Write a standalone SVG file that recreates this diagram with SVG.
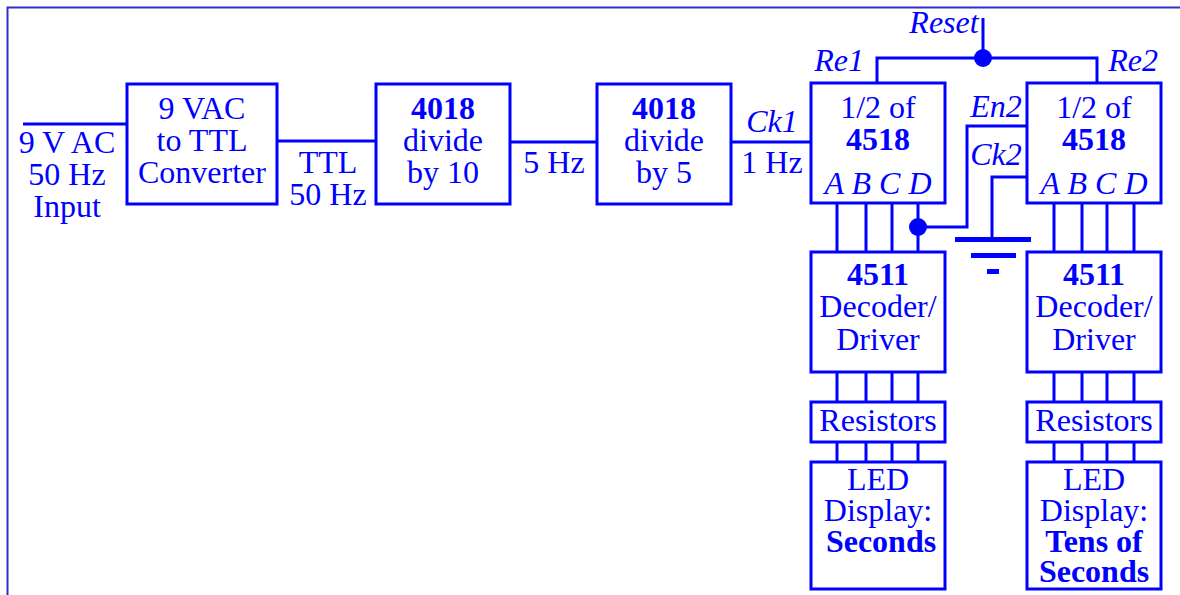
<svg xmlns="http://www.w3.org/2000/svg" width="1180" height="595" viewBox="0 0 1180 595">
<style>
.b{fill:#fff;stroke:#0000ff;stroke-width:3}
.w{fill:none;stroke:#0000ff;stroke-width:3}
text{font-family:"Liberation Serif","Times New Roman",serif;font-size:32px;fill:#0000ff;text-anchor:middle}
.bd{font-weight:bold}
.it{font-style:italic}
</style>
<rect width="1180" height="595" fill="#fff"/>
<path d="M7.5 595 V7.5 H1180" fill="none" stroke="#3030c8" stroke-width="2"/>
<g id="connectors">
<path class="w" d="M23 124 H127"/>
<path class="w" d="M277 141 H376"/>
<path class="w" d="M510 142 H597"/>
<path class="w" d="M731 142 H811"/>
<path class="w" d="M983 18 V58 M877 83 V58 H1097 V83"/>
<path class="w" d="M918 227 H967 V126 H1027"/>
<path class="w" d="M1027 177 H992 V239"/>
<path class="w" d="M837 203 V252 M866 203 V252 M892 203 V252 M918 203 V252"/>
<path class="w" d="M1054 203 V252 M1082 203 V252 M1107 203 V252 M1134 203 V252"/>
<path class="w" d="M837 372 V402 M866 372 V402 M892 372 V402 M918 372 V402"/>
<path class="w" d="M1054 372 V402 M1082 372 V402 M1107 372 V402 M1134 372 V402"/>
<path class="w" d="M837 442 V462 M866 442 V462 M892 442 V462 M918 442 V462"/>
<path class="w" d="M1054 442 V462 M1082 442 V462 M1107 442 V462 M1134 442 V462"/>
<circle cx="983" cy="58" r="9" fill="#0000ff"/>
<circle cx="918" cy="227" r="9" fill="#0000ff"/>
</g>
<g id="ground" fill="#0000ff">
<rect x="955" y="237" width="76" height="5"/>
<rect x="971" y="253" width="45" height="5"/>
<rect x="987" y="269" width="12" height="5"/>
</g>
<g id="labels">
<text x="67" y="153">9 V AC</text>
<text x="67" y="185">50 Hz</text>
<text x="67" y="217">Input</text>
<text x="328" y="173">TTL</text>
<text x="328" y="205">50 Hz</text>
<text x="554" y="173">5 Hz</text>
<text x="772" y="132" class="it">Ck1</text>
<text x="772" y="173">1 Hz</text>
<text x="944" y="33" class="it">Reset</text>
<text x="839" y="71" class="it">Re1</text>
<text x="1133" y="71" class="it">Re2</text>
<text x="996" y="117" class="it">En2</text>
<text x="996" y="165" class="it">Ck2</text>
</g>
<g id="converter">
<rect class="b" x="127" y="84" width="150" height="120"/>
<text x="202" y="119">9 VAC</text>
<text x="202" y="151">to TTL</text>
<text x="202" y="183">Converter</text>
</g>
<g id="div10">
<rect class="b" x="376" y="84" width="134" height="120"/>
<text x="443" y="119" class="bd">4018</text>
<text x="443" y="151">divide</text>
<text x="443" y="183">by 10</text>
</g>
<g id="div5">
<rect class="b" x="597" y="84" width="134" height="120"/>
<text x="664" y="119" class="bd">4018</text>
<text x="664" y="151">divide</text>
<text x="664" y="183">by 5</text>
</g>
<g id="counter1">
<rect class="b" x="811" y="83" width="134" height="120"/>
<text x="878" y="118">1/2 of</text>
<text x="878" y="150" class="bd">4518</text>
<text x="878" y="194" class="it">A B C D</text>
</g>
<g id="counter2">
<rect class="b" x="1027" y="83" width="134" height="120"/>
<text x="1094" y="118">1/2 of</text>
<text x="1094" y="150" class="bd">4518</text>
<text x="1094" y="194" class="it">A B C D</text>
</g>
<g id="decoder1">
<rect class="b" x="811" y="252" width="134" height="120"/>
<text x="878" y="285" class="bd">4511</text>
<text x="878" y="317">Decoder/</text>
<text x="878" y="350">Driver</text>
</g>
<g id="decoder2">
<rect class="b" x="1027" y="252" width="134" height="120"/>
<text x="1094" y="285" class="bd">4511</text>
<text x="1094" y="317">Decoder/</text>
<text x="1094" y="350">Driver</text>
</g>
<g id="resistors1">
<rect class="b" x="811" y="402" width="134" height="40"/>
<text x="878" y="431">Resistors</text>
</g>
<g id="resistors2">
<rect class="b" x="1027" y="402" width="134" height="40"/>
<text x="1094" y="431">Resistors</text>
</g>
<g id="display1">
<rect class="b" x="811" y="462" width="134" height="127"/>
<text x="878" y="490">LED</text>
<text x="878" y="521">Display:</text>
<text x="881" y="552" class="bd">Seconds</text>
</g>
<g id="display2">
<rect class="b" x="1027" y="462" width="134" height="127"/>
<text x="1094" y="490">LED</text>
<text x="1094" y="521">Display:</text>
<text x="1094" y="552" class="bd">Tens of</text>
<text x="1094" y="582" class="bd">Seconds</text>
</g>
</svg>
